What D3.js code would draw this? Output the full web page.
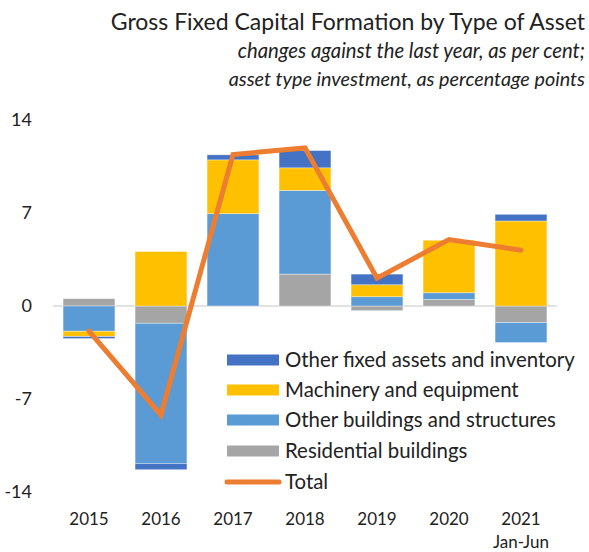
<!DOCTYPE html>
<html><head><meta charset="utf-8">
<script src="https://cdn.jsdelivr.net/npm/d3@7"></script>
<style>body{margin:0;background:#fff}svg{display:block;font-family:Lato,"Noto Sans",sans-serif}</style>
</head><body><svg id="c" width="589" height="552"></svg>
<script>
const years = ["2015","2016","2017","2018","2019","2020","2021"];
const residential = [0.55, -1.3, 0, 2.4, -0.35, 0.5, -1.25];
const otherBuildings = [-1.9, -10.55, 6.95, 6.3, 0.7, 0.5, -1.5];
const machinery = [-0.4, 4.1, 4.05, 1.7, 0.9, 3.95, 6.4];
const otherAssets = [-0.15, -0.47, 0.38, 1.3, 0.8, 0, 0.5];
const total = [-1.9, -8.2, 11.4, 11.9, 2.1, 5.0, 4.2];
const yTicks = [14, 7, 0, -7, -14];
const seriesNames = ["Other fixed assets and inventory","Machinery and equipment","Other buildings and structures","Residential buildings","Total"];
const colors = ["#4472C4","#FFC000","#5B9BD5","#A5A5A5","#ED7D31"];

const svg = d3.select("#c");
const x = d3.scaleBand().domain(years).range([53,557]).paddingInner(0.28).paddingOuter(0.14);
const y = d3.scaleLinear().domain([-14,14]).range([492,120]);

// title
svg.append("text").attr("x",585).attr("y",30).attr("text-anchor","end").attr("font-size",23).attr("fill","#222").text("Gross Fixed Capital Formation by Type of Asset");
svg.append("text").attr("x",585).attr("y",58).attr("text-anchor","end").attr("font-size",20.3).attr("font-style","italic").attr("fill","#222").text("changes against the last year, as per cent;");
svg.append("text").attr("x",585).attr("y",86).attr("text-anchor","end").attr("font-size",19.8).attr("font-style","italic").attr("fill","#222").text("asset type investment, as percentage points");

// y axis labels
const yAxis = d3.axisLeft(y).tickValues(yTicks).tickSize(0).tickPadding(0).tickFormat(d=>String(d));
const ya = svg.append("g").attr("transform","translate(32,0)").call(yAxis);
ya.select(".domain").remove();
ya.selectAll("text").attr("font-size",18).attr("fill","#222").attr("font-family","Lato,sans-serif");

// zero line
svg.append("line").attr("x1",53).attr("x2",557).attr("y1",y(0)).attr("y2",y(0)).attr("stroke","#D9D9D9").attr("stroke-width",1.5);

// stacked bars (order from bottom: residential, other buildings, machinery, other assets)
const stackOrder = [residential, otherBuildings, machinery, otherAssets];
const stackColors = ["#A5A5A5","#5B9BD5","#FFC000","#4472C4"];
years.forEach((yr,i)=>{
  let pos=0, neg=0;
  stackOrder.forEach((arr,k)=>{
    const v=arr[i];
    if(!v) return;
    let y0,y1;
    if(v>0){y0=pos;y1=pos+v;pos=y1;} else {y0=neg;y1=neg+v;neg=y1;}
    svg.append("rect").attr("x",x(yr)).attr("width",x.bandwidth())
      .attr("y",y(Math.max(y0,y1))).attr("height",Math.abs(y(y0)-y(y1)))
      .attr("fill",stackColors[k]).attr("stroke","rgba(255,255,255,0.45)").attr("stroke-width",0.8);
  });
});

// total line
const line = d3.line().x((d,i)=>x(years[i])+x.bandwidth()/2).y(d=>y(d));
svg.append("path").datum(total).attr("d",line).attr("fill","none").attr("stroke","#ED7D31").attr("stroke-width",5).attr("stroke-linecap","round").attr("stroke-linejoin","miter");

// x axis labels
const xAxis = d3.axisBottom(x).tickSize(0).tickPadding(0);
const xa = svg.append("g").attr("transform","translate(0,513)").call(xAxis);
xa.select(".domain").remove();
xa.selectAll("text").attr("font-size",17).attr("fill","#222").attr("font-family","Lato,sans-serif");
svg.append("text").attr("x",x("2021")+x.bandwidth()/2).attr("y",548).attr("text-anchor","middle").attr("font-size",17).attr("fill","#222").text("Jan-Jun");

// legend
const lg = svg.append("g");
const rowsY = [360,390,420,451,482];
seriesNames.forEach((n,i)=>{
  if(i<4){
    lg.append("rect").attr("x",227).attr("y",rowsY[i]-5.5).attr("width",52).attr("height",11).attr("fill",colors[i]);
  } else {
    lg.append("line").attr("x1",227).attr("x2",279).attr("y1",rowsY[i]).attr("y2",rowsY[i]).attr("stroke",colors[i]).attr("stroke-width",5).attr("stroke-linecap","round");
  }
  lg.append("text").attr("x",285).attr("y",rowsY[i]).attr("dy","0.35em").attr("font-size",20.4).attr("fill","#222").text(n);
});
</script></body></html>
